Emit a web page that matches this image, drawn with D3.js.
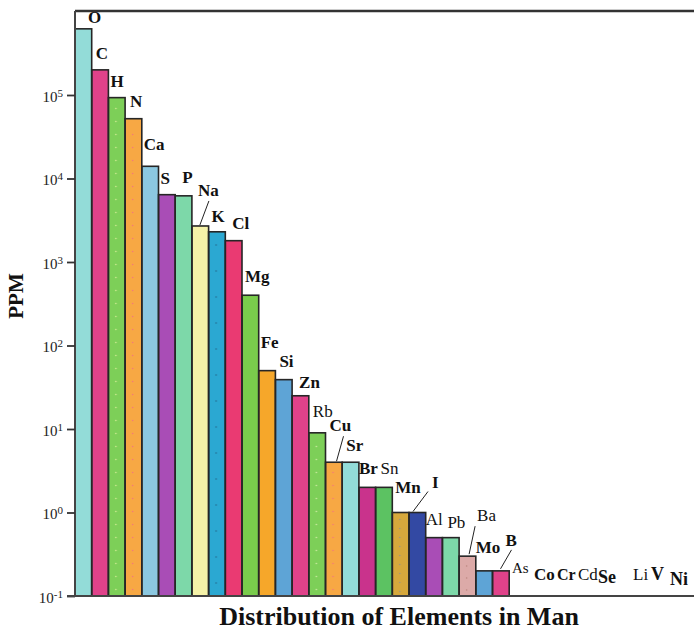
<!DOCTYPE html>
<html>
<head>
<meta charset="utf-8">
<script src="https://cdn.jsdelivr.net/npm/d3@7"></script>
<style>
  html, body { margin: 0; padding: 0; background: #fff; }
  svg { display: block; }
</style>
</head>
<body>
<svg id="chart" width="694" height="631"></svg>
<script>
// ---------- DATA ----------
const elements = ["O","C","H","N","Ca","S","P","Na","K","Cl","Mg","Fe","Si","Zn","Rb","Cu","Sr","Br","Sn","Mn","I","Al","Pb","Ba","Mo","B"];
const ppm = [620000, 200000, 93000, 52000, 14000, 6400, 6200, 2700, 2300, 1800, 400, 50, 39, 25, 9, 4, 4, 2, 2, 1, 1, 0.5, 0.5, 0.3, 0.2, 0.2];
const barColors = ["#93dcd8","#e0428a","#7dcf58","#f7a844","#8cc8e0","#a94db6","#7dd8a9","#f5f2a8","#2ba8d2","#ea3a72","#7acc4c","#f6a72a","#5ea4d6","#e0428a","#7dcf58","#f7a844","#93dcd8","#c9338c","#5cc262","#d6a83c","#3349a3","#a94db6","#7dd8a9","#dcaaa8","#5ea4d6","#e0428a"];
const dotColors = [null,null,"#eef7a8","#f2668a",null,null,null,null,"#1d4f6e",null,null,null,null,null,"#eef7c0","#f2668a",null,null,null,"#8a8a9a",null,null,null,"#b07a70",null,null];
const dotSpacing = [0,0,13,13,0,0,0,0,26,0,0,0,0,0,13,13,0,0,0,9,0,0,0,12,0,0];
const boldLabel = [1,1,1,1,1,1,1,1,1,1,1,1,1,1,0,1,1,1,0,1,1,0,0,0,1,1];
// trace elements below 0.1 ppm (no bar drawn)
const traceElements = ["As","Co","Cr","Cd","Se","Li","V","Ni"];
const traceBold = [0,1,1,0,1,0,1,1];
const tickValues = [0.1, 1, 10, 100, 1000, 10000, 100000];
const tickExponents = ["-1","0","1","2","3","4","5"];
const xTitle = "Distribution of Elements in Man";
const yTitle = "PPM";

// ---------- LAYOUT (label offsets relative to bar left / bar top) ----------
const labelDX = [13,4,2,5,2,2,7,6,3,7,3,2,4,7,4,4,4,0,5,3,23,0,5,18,0,13];
const labelDY = [-6,-11,-11,-12,-16,-11,-13,-30,-10,-12,-13,-23,-13,-8,-16,-31,-11,-13,-13,-20,-25,-13,-10,-35,-18,-25];
// leader lines: [index, x1 offset from bar left, y1 offset from top, x2, y2]
const leaders = [[7,17,-25,8,-1],[15,18,-26,11,-1],[20,19,-21,4,-1],[23,16,-30,10,-2],[25,19,-21,8,-2]];
const traceX = [512,534,557,578,598,633,651,670];
const traceY = [573,580,580,580,583,580,580,585];
const traceSize = [15,17,16,17,18,17,18,18];

// ---------- CHART ----------
const svg = d3.select("#chart");
const mLeft = 75, mTop = 11, mBottom = 596, mRight = 694;
const step = 16.7;

const x = d3.scaleBand().domain(elements).range([mLeft, mLeft + step * elements.length]).padding(0);
const y = d3.scaleLog().domain([0.1, 1e6]).range([mBottom, mTop + 0.5]);

const serif = "'Liberation Serif', 'Times New Roman', serif";

// dot texture patterns
const defs = svg.append("defs");
elements.forEach((d, i) => {
  if (!dotColors[i]) return;
  const p = defs.append("pattern").attr("id", "dots" + i)
    .attr("patternUnits", "userSpaceOnUse")
    .attr("x", x(d)).attr("y", mBottom)
    .attr("width", x.bandwidth()).attr("height", dotSpacing[i]);
  p.append("circle").attr("cx", x.bandwidth() * 0.45).attr("cy", dotSpacing[i] / 2).attr("r", 0.8)
    .attr("fill", dotColors[i]).attr("opacity", 0.75);
});

// bars
const barG = svg.append("g");
barG.selectAll("rect.bar").data(elements).join("rect")
  .attr("class", "bar")
  .attr("x", d => x(d))
  .attr("y", (d, i) => y(ppm[i]))
  .attr("width", x.bandwidth())
  .attr("height", (d, i) => mBottom - y(ppm[i]))
  .attr("fill", (d, i) => barColors[i]);
barG.selectAll("rect.tex").data(elements.filter((d, i) => dotColors[i])).join("rect")
  .attr("class", "tex")
  .attr("x", d => x(d))
  .attr("y", d => y(ppm[elements.indexOf(d)]) + 4)
  .attr("width", x.bandwidth())
  .attr("height", d => mBottom - y(ppm[elements.indexOf(d)]) - 6)
  .attr("fill", d => `url(#dots${elements.indexOf(d)})`);
barG.selectAll("rect.outline").data(elements).join("rect")
  .attr("class", "outline")
  .attr("x", d => x(d))
  .attr("y", (d, i) => y(ppm[i]))
  .attr("width", x.bandwidth())
  .attr("height", (d, i) => mBottom - y(ppm[i]))
  .attr("fill", "none")
  .attr("stroke", "#262626")
  .attr("stroke-width", 1.6);

// axes lines
svg.append("line").attr("x1", mLeft).attr("x2", mRight).attr("y1", mTop).attr("y2", mTop)
  .attr("stroke", "#333").attr("stroke-width", 2.5);
svg.append("line").attr("x1", mLeft).attr("x2", mLeft).attr("y1", mTop).attr("y2", mBottom)
  .attr("stroke", "#444").attr("stroke-width", 2);

// y axis via d3 axis
const yAxis = d3.axisLeft(y).tickValues(tickValues).tickSize(8).tickFormat("");
const gy = svg.append("g").attr("transform", `translate(${mLeft},0)`).call(yAxis);
gy.select(".domain").remove();
gy.selectAll(".tick line").attr("stroke", "#333").attr("stroke-width", 1.8);
gy.selectAll(".tick").each(function(d, i) {
  const t = d3.select(this).append("text")
    .attr("x", -12).attr("y", 6)
    .attr("text-anchor", "end")
    .attr("fill", "#222")
    .style("font-family", serif).style("font-size", "15px");
  t.append("tspan").text("10");
  t.append("tspan").attr("dy", -5).style("font-size", "11px").text(tickExponents[i]);
});

// bottom axis line
svg.append("line").attr("x1", mLeft - 8).attr("x2", mRight).attr("y1", mBottom).attr("y2", mBottom)
  .attr("stroke", "#444").attr("stroke-width", 2.2);

// bar labels
svg.append("g").selectAll("text").data(elements).join("text")
  .attr("x", (d, i) => x(d) + labelDX[i])
  .attr("y", (d, i) => y(ppm[i]) + labelDY[i])
  .attr("fill", "#111")
  .style("font-family", serif)
  .style("font-size", "17px")
  .style("font-weight", (d, i) => boldLabel[i] ? "bold" : "normal")
  .text(d => d);

// leader lines
svg.append("g").selectAll("line").data(leaders).join("line")
  .attr("x1", d => x(elements[d[0]]) + d[1])
  .attr("y1", d => y(ppm[d[0]]) + d[2])
  .attr("x2", d => x(elements[d[0]]) + d[3])
  .attr("y2", d => y(ppm[d[0]]) + d[4])
  .attr("stroke", "#222").attr("stroke-width", 1);

// trace element labels
svg.append("g").selectAll("text").data(traceElements).join("text")
  .attr("x", (d, i) => traceX[i])
  .attr("y", (d, i) => traceY[i])
  .attr("fill", "#111")
  .style("font-family", serif)
  .style("font-size", (d, i) => traceSize[i] + "px")
  .style("font-weight", (d, i) => traceBold[i] ? "bold" : "normal")
  .text(d => d);

// titles
svg.append("text").attr("x", 399).attr("y", 625)
  .attr("text-anchor", "middle").attr("fill", "#111")
  .style("font-family", serif).style("font-size", "26px").style("font-weight", "bold")
  .text(xTitle);
svg.append("text").attr("transform", "translate(23,296) rotate(-90)")
  .attr("text-anchor", "middle").attr("fill", "#111")
  .style("font-family", serif).style("font-size", "21px").style("font-weight", "bold")
  .text(yTitle);
</script>
</body>
</html>
